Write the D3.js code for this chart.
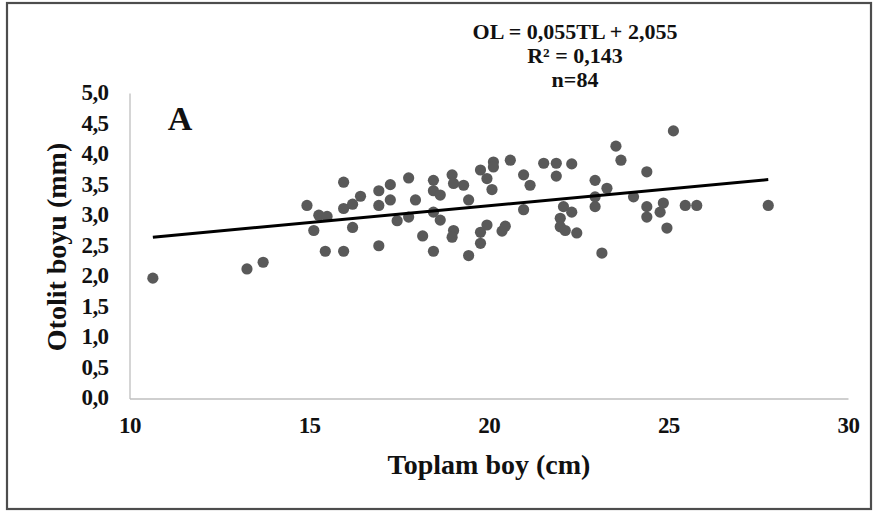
<!DOCTYPE html>
<html><head><meta charset="utf-8">
<script src="https://cdn.jsdelivr.net/npm/d3@7"></script>
<style>body{margin:0;background:#fff}svg{display:block}text{font-family:"Liberation Serif","Times New Roman",serif;font-weight:bold;fill:#111}</style>
</head><body>
<script>
const totalLength = [10.65,13.27,13.72,14.94,15.96,15.13,15.27,15.5,15.45,15.96,15.96,16.21,16.43,16.21,16.94,17.26,16.94,17.26,16.94,17.45,17.77,17.77,17.96,18.16,18.46,18.46,18.65,18.46,18.65,18.46,18.98,19.02,19.30,19.44,19.02,18.98,19.44,19.77,19.77,19.77,19.95,20.13,20.13,20.09,20.60,20.97,21.15,20.97,19.95,20.37,20.46,21.53,21.88,21.88,22.31,22.08,22.31,21.99,21.99,22.13,22.45,22.96,23.29,22.96,22.96,23.15,23.54,23.68,24.03,24.40,24.40,24.40,25.14,24.86,24.77,24.96,25.47,25.79,27.78];
const otolithLength = [1.97,2.12,2.23,3.16,3.54,2.75,3.00,2.98,2.41,2.41,3.11,3.18,3.31,2.80,3.40,3.50,3.16,3.25,2.50,2.91,3.61,2.97,3.25,2.66,3.57,3.40,3.33,3.05,2.92,2.41,3.66,3.52,3.49,3.25,2.75,2.64,2.34,3.74,2.72,2.54,3.60,3.87,3.79,3.42,3.90,3.66,3.49,3.09,2.84,2.74,2.82,3.85,3.85,3.64,3.84,3.14,3.05,2.95,2.81,2.75,2.71,3.57,3.44,3.30,3.14,2.38,4.13,3.90,3.30,3.71,3.14,2.97,4.38,3.20,3.05,2.79,3.16,3.16,3.16];
const slope = 0.055, intercept = 2.055;
const xTicks = [10,15,20,25,30];
const yTicks = [0,0.5,1,1.5,2,2.5,3,3.5,4,4.5,5];
const equationLines = ["OL = 0,055TL + 2,055","R² = 0,143","n=84"];
const panelLabel = "A";
const xTitle = "Toplam boy (cm)", yTitle = "Otolit boyu (mm)";

const W=878,H=514;
const svg=d3.select("body").append("svg").attr("width",W).attr("height",H);
svg.append("rect").attr("x",7).attr("y",3).attr("width",864).attr("height",506).attr("fill","#fff").attr("stroke","#4d4d4d").attr("stroke-width",2.2);

const x=d3.scaleLinear().domain([10,30]).range([129.5,848]);
const y=d3.scaleLinear().domain([0,5]).range([398.5,93]);
const fmt=d=>d3.format(".1f")(d).replace(".",",");

const gx=svg.append("g").attr("transform",`translate(0,${y(0)})`)
  .call(d3.axisBottom(x).tickValues(xTicks).tickSize(0).tickPadding(18).tickFormat(d=>d));
gx.select(".domain").attr("stroke","#bfbfbf").attr("stroke-width",1.3);
gx.selectAll("text").attr("font-size",23).style("font-family","Liberation Serif").style("font-weight","bold").attr("fill","#111").attr("letter-spacing","-0.6");

const gy=svg.append("g").attr("transform",`translate(${x(10)},0)`)
  .call(d3.axisLeft(y).tickValues(yTicks).tickSize(0).tickPadding(21).tickFormat(fmt));
gy.select(".domain").attr("stroke","#bfbfbf").attr("stroke-width",1.3);
gy.selectAll("text").attr("font-size",23).attr("dy","0.28em").style("font-family","Liberation Serif").style("font-weight","bold").attr("fill","#111").attr("letter-spacing","-0.6");

svg.append("g").selectAll("circle").data(totalLength.map((t,i)=>[t,otolithLength[i]])).join("circle")
  .attr("cx",d=>x(d[0])).attr("cy",d=>y(d[1])).attr("r",5.6).attr("fill","#595959");

const ext=d3.extent(totalLength);
svg.append("line").attr("x1",x(ext[0])).attr("y1",y(slope*ext[0]+intercept))
  .attr("x2",x(ext[1])).attr("y2",y(slope*ext[1]+intercept))
  .attr("stroke","#000").attr("stroke-width",3);

svg.append("text").attr("x",489).attr("y",474).attr("text-anchor","middle").attr("font-size",28).text(xTitle);
svg.append("text").attr("transform","translate(66,247) rotate(-90)").attr("text-anchor","middle").attr("font-size",28).text(yTitle);
svg.append("text").attr("x",180).attr("y",130).attr("text-anchor","middle").attr("font-size",34).text(panelLabel);
svg.append("g").selectAll("text").data(equationLines).join("text")
  .attr("x",575).attr("y",(d,i)=>39+i*24).attr("text-anchor","middle").attr("font-size",22).text(d=>d);
</script>
</body></html>
